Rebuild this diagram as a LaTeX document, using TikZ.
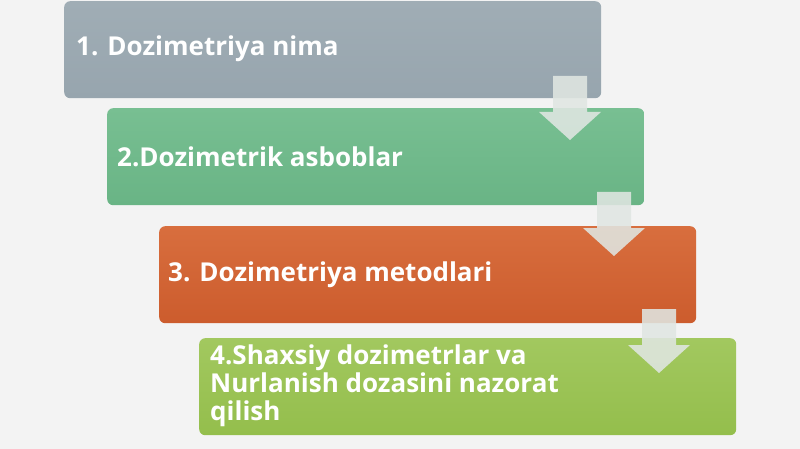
\documentclass[tikz,border=0pt]{standalone}
\usepackage{fontspec}
\setmainfont{Open Sans}
\usetikzlibrary{calc}
\definecolor{bg}{HTML}{F3F3F3}
\definecolor{gA}{HTML}{A0ADB5}\definecolor{gB}{HTML}{97A5AE}
\definecolor{nA}{HTML}{78BF92}\definecolor{nB}{HTML}{69B485}
\definecolor{oA}{HTML}{D86E3E}\definecolor{oB}{HTML}{CC5C2D}
\definecolor{lA}{HTML}{A2C85F}\definecolor{lB}{HTML}{94BE4C}
\definecolor{arr}{HTML}{E0E6E2}
\tikzset{
  stepbox/.style={rectangle, rounded corners=6pt, minimum width=537pt, minimum height=97pt, anchor=north west, inner sep=0pt, draw=none},
  steptext/.style={anchor=west, text=white, font=\bfseries\fontsize{26}{28}\selectfont, align=left, inner sep=0pt},
  downarrow/.style={fill=arr, fill opacity=0.88, draw=none}
}
\newcommand{\darrow}[1]{%
  \fill[downarrow] ($(#1)+(-17,0)$) -- ($(#1)+(17,0)$) -- ($(#1)+(17,36)$) -- ($(#1)+(31,36)$) -- ($(#1)+(0,64)$) -- ($(#1)+(-31,36)$) -- ($(#1)+(-17,36)$) -- cycle;}
\begin{document}
\begin{tikzpicture}[x=1pt,y=-1pt]
\useasboundingbox (0,0) rectangle (800,449);
\fill[bg] (0,0) rectangle (800,449);
\node[stepbox, top color=gA, bottom color=gB] (b1) at (64,1) {};
\node[stepbox, top color=nA, bottom color=nB] (b2) at (107,108) {};
\node[stepbox, top color=oA, bottom color=oB] (b3) at (159,226) {};
\node[stepbox, top color=lA, bottom color=lB] (b4) at (199,338) {};
\node[steptext] (t1) at ($(b1.west)+(12,-1)$) {1. Dozimetriya nima};
\node[steptext] (t2) at ($(b2.west)+(10,0)$) {2.Dozimetrik asboblar};
\node[steptext] (t3) at ($(b3.west)+(9,0)$) {3. Dozimetriya metodlari};
\node[steptext] (t4) at ($(b4.west)+(11,-1)$) {4.Shaxsiy dozimetrlar va\\Nurlanish dozasini nazorat\\qilish};
\coordinate (a1) at (570,76);
\coordinate (a2) at (614,192);
\coordinate (a3) at (659,309);
\darrow{a1}
\darrow{a2}
\darrow{a3}
\end{tikzpicture}
\end{document}
